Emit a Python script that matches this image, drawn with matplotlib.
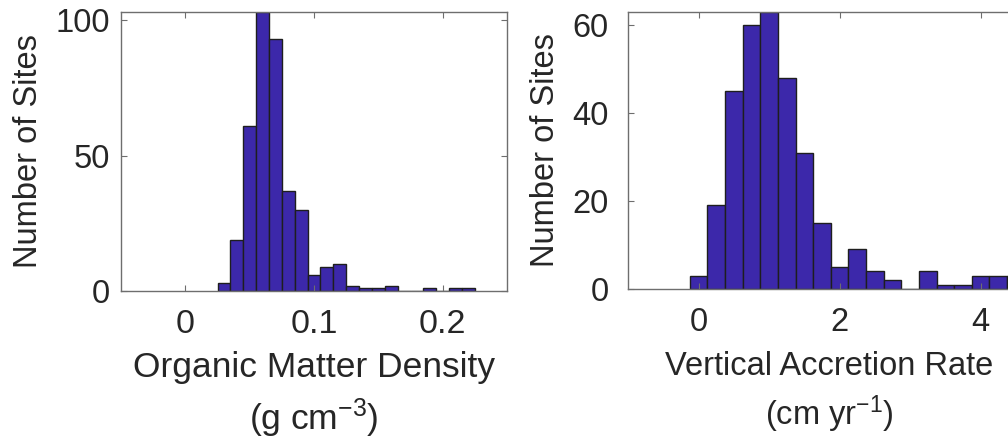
import matplotlib
matplotlib.use("Agg")
import matplotlib.pyplot as plt
import numpy as np

# ---- data ----
om_centers = [0.03, 0.04, 0.05, 0.06, 0.07, 0.08, 0.09, 0.10, 0.11, 0.12,
              0.13, 0.14, 0.15, 0.16, 0.17, 0.18, 0.19, 0.20, 0.21, 0.22]
om_counts = [3, 19, 61, 103, 93, 37, 30, 6, 9, 10, 2, 1, 1, 2, 0, 0, 1, 0, 1, 1]
om_width = 0.01

var_centers = [0.0, 0.25, 0.5, 0.75, 1.0, 1.25, 1.5, 1.75, 2.0, 2.25,
               2.5, 2.75, 3.0, 3.25, 3.5, 3.75, 4.0, 4.25, 4.5]
var_counts = [3, 19, 45, 60, 63, 48, 31, 15, 5, 9, 4, 2, 0, 4, 1, 1, 3, 3, 3]
var_width = 0.25

om_xticks = [0, 0.1, 0.2]
om_xticklabels = ["0", "0.1", "0.2"]
om_yticks = [0, 50, 100]
var_xticks = [0, 2, 4]
var_yticks = [0, 20, 40, 60]

ylabel = "Number of Sites"
om_xlabel = "Organic Matter Density\n(g cm$^{-3}$)"
var_xlabel = "Vertical Accretion Rate\n(cm yr$^{-1}$)"

plt.rcParams['font.family'] = ['Liberation Sans', 'DejaVu Sans']
plt.rcParams['mathtext.default'] = 'regular'
plt.rcParams['font.size'] = 23.5

W, H = 1008, 441
fig = plt.figure(figsize=(W / 100, H / 100), dpi=100)

def px_axes(x0, y_bottom, w, h):
    return fig.add_axes([x0 / W, (H - y_bottom) / H, w / W, h / H])

face = '#3c28aa'
edge = '#1e1e1e'
spine_col = '#6e6e6e'
text_col = '#262626'

def style(ax, ypad):
    for s in ax.spines.values():
        s.set_color(spine_col)
        s.set_linewidth(1.0)
    ax.tick_params(direction='in', top=True, right=True, length=4,
                   width=0.8, color=spine_col, labelcolor=text_col)
    ax.tick_params(axis='x', pad=13)
    ax.tick_params(axis='y', pad=ypad)

ax1 = px_axes(121, 291, 386, 279)
ax1.bar(om_centers, om_counts, width=om_width, color=face, edgecolor=edge,
        linewidth=1.0, align='center')
ax1.set_xlim(-0.05, 0.25)
ax1.set_ylim(0, 103)
ax1.set_xticks(om_xticks)
ax1.set_xticklabels(om_xticklabels, fontsize=24.5)
ax1.set_yticks(om_yticks)
style(ax1, 8)
ax1.set_ylabel(ylabel, color=text_col, labelpad=8)
ax1.set_xlabel(om_xlabel, color=text_col, labelpad=8, linespacing=1.36,
               fontsize=25.5)

ax2 = px_axes(628, 289, 402, 277)
ax2.bar(var_centers, var_counts, width=var_width, color=face, edgecolor=edge,
        linewidth=1.0, align='center')
ax2.set_xlim(-1, 4.7)
ax2.set_ylim(0, 63)
ax2.set_xticks(var_xticks)
ax2.set_yticks(var_yticks)
style(ax2, 14)
ax2.set_ylabel(ylabel, color=text_col, labelpad=8)
ax2.set_xlabel(var_xlabel, color=text_col, labelpad=9, linespacing=1.38)

fig.savefig("out.png", dpi=100, facecolor='white')
